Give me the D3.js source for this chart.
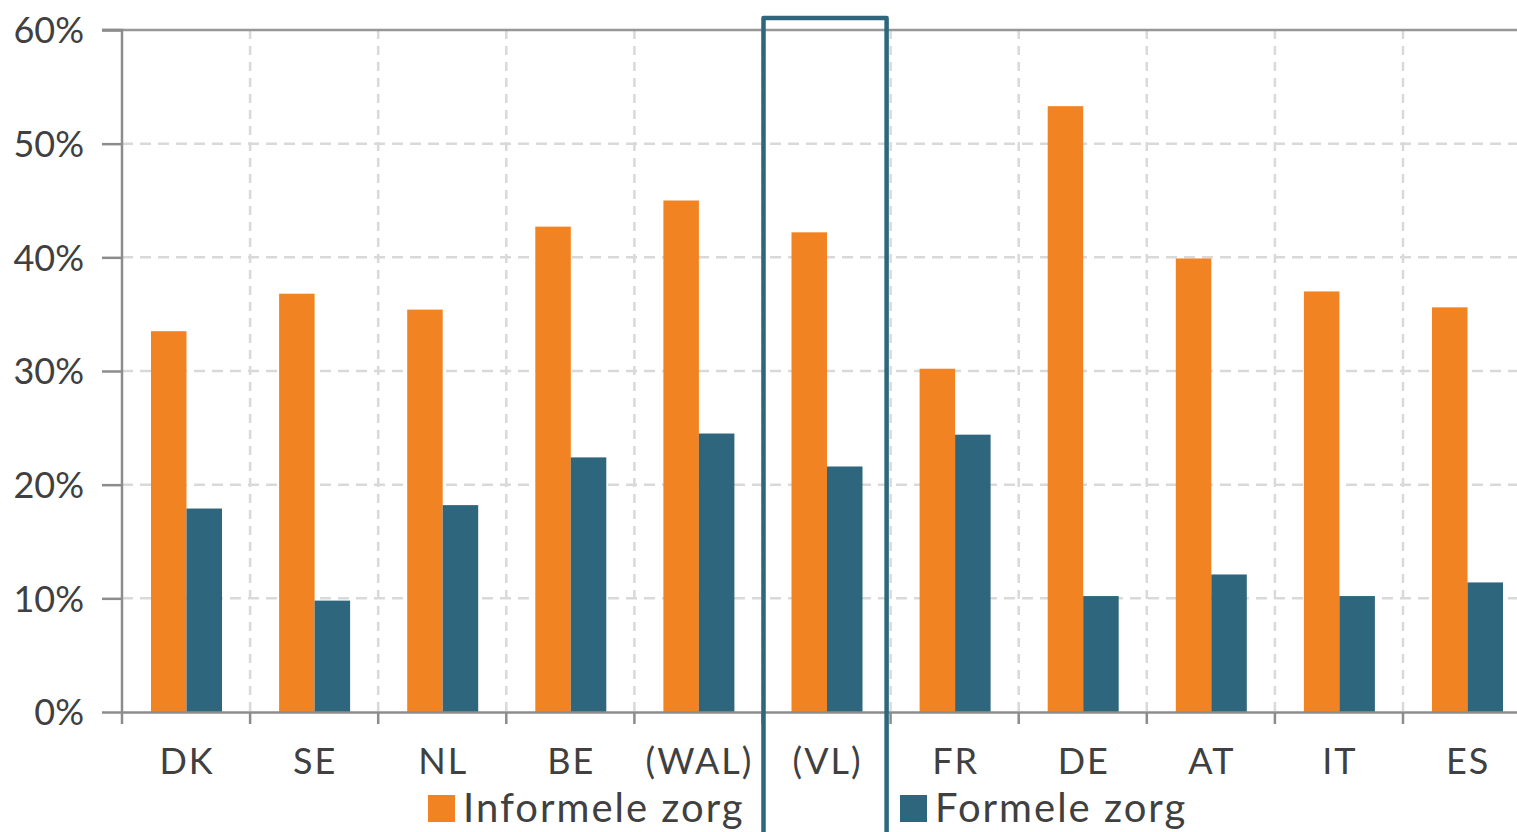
<!DOCTYPE html>
<html><head><meta charset="utf-8">
<script src="https://cdn.jsdelivr.net/npm/d3@7"></script>
<style>body{margin:0;background:#fff;overflow:hidden}svg{display:block}text{font-family:Lato,"Open Sans",sans-serif;fill:#404040}</style>
</head><body><svg id="c" width="1517" height="832"></svg>
<script>
const categories = ["DK","SE","NL","BE","(WAL)","(VL)","FR","DE","AT","IT","ES"];
const informele = [33.5,36.8,35.4,42.7,45.0,42.2,30.2,53.3,39.9,37.0,35.6];
const formele = [17.9,9.8,18.2,22.4,24.5,21.6,24.4,10.2,12.1,10.2,11.4];
const yTicks = [0,10,20,30,40,50,60];
const seriesNames = ["Informele zorg","Formele zorg"];
const colors = ["#f28322","#2e677d"];
const highlight = "(VL)";

(function(){
const svg = d3.select("#c");
const mLeft = 122, mTop = 30, mBottom = 712, bw = 128.1;
const x = d3.scaleBand().domain(categories).range([mLeft, mLeft + bw*categories.length]);
const y = d3.scaleLinear().domain([0,60]).range([mBottom, mTop]);
const x1 = d3.scaleBand().domain([0,1]).range([29, 29+71]);

svg.append("g").selectAll("line").data(yTicks.filter(t=>t>0 && t<60)).join("line")
  .attr("x1", mLeft).attr("x2", 1517).attr("y1", d=>y(d)).attr("y2", d=>y(d))
  .attr("stroke","#d9d9d9").attr("stroke-width",2.5).attr("stroke-dasharray","11,7");
svg.append("g").selectAll("line").data(categories.slice(1)).join("line")
  .attr("x1", d=>x(d)).attr("x2", d=>x(d)).attr("y1", mTop).attr("y2", mBottom)
  .attr("stroke","#d9d9d9").attr("stroke-width",2.5).attr("stroke-dasharray","9,7");
svg.append("line").attr("x1",mLeft-20).attr("x2",1517).attr("y1",y(60)).attr("y2",y(60))
  .attr("stroke","#979797").attr("stroke-width",2.5);

const g = svg.append("g");
categories.forEach((c,i)=>{
  [informele[i], formele[i]].forEach((v,s)=>{
    g.append("rect").attr("x", x(c)+x1(s)).attr("width", x1.bandwidth())
      .attr("y", y(v)).attr("height", mBottom - y(v)).attr("fill", colors[s]);
  });
});

const ya = svg.append("g").attr("transform",`translate(${mLeft},0)`)
  .call(d3.axisLeft(y).tickValues(yTicks).tickFormat(d=>d+"%").tickSize(20).tickPadding(18));
ya.select(".domain").attr("stroke","#8c8c8c").attr("stroke-width",2.5).attr("d",`M-20,${mTop}H0V${mBottom}`);
ya.selectAll(".tick line").attr("stroke","#8c8c8c").attr("stroke-width",2.5);
ya.selectAll(".tick text").style("font-size","36px").attr("fill","#404040").attr("dy","0.36em");

const xa = svg.append("g").attr("transform",`translate(0,${mBottom})`)
  .call(d3.axisBottom(x).tickSize(0).tickPadding(34));
xa.select(".domain").attr("stroke","#8c8c8c").attr("stroke-width",2.5);
xa.selectAll(".tick text").style("font-size","36px").style("letter-spacing","2px").attr("fill","#404040").attr("dy","0.71em").attr("y",36).attr("dx",1);
svg.append("g").selectAll("line").data(categories.concat(["_end"])).join("line")
  .attr("x1",(d,i)=>mLeft+i*bw).attr("x2",(d,i)=>mLeft+i*bw).attr("y1",mBottom).attr("y2",mBottom+12)
  .attr("stroke","#8c8c8c").attr("stroke-width",2.5);

const hx = x(highlight);
svg.append("path").attr("d",`M${hx+1},840V18H${hx+bw-4}V840`)
  .attr("fill","none").attr("stroke","#2e677d").attr("stroke-width",4.5).attr("stroke-linejoin","round");

const legX = [428, 900];
seriesNames.forEach((n,i)=>{
  svg.append("rect").attr("x",legX[i]).attr("y",795).attr("width",27).attr("height",27).attr("fill",colors[i]);
  svg.append("text").attr("x",legX[i]+35).attr("y",822).text(n).style("font-size","40px").style("letter-spacing","2px");
});
})();
</script></body></html>
